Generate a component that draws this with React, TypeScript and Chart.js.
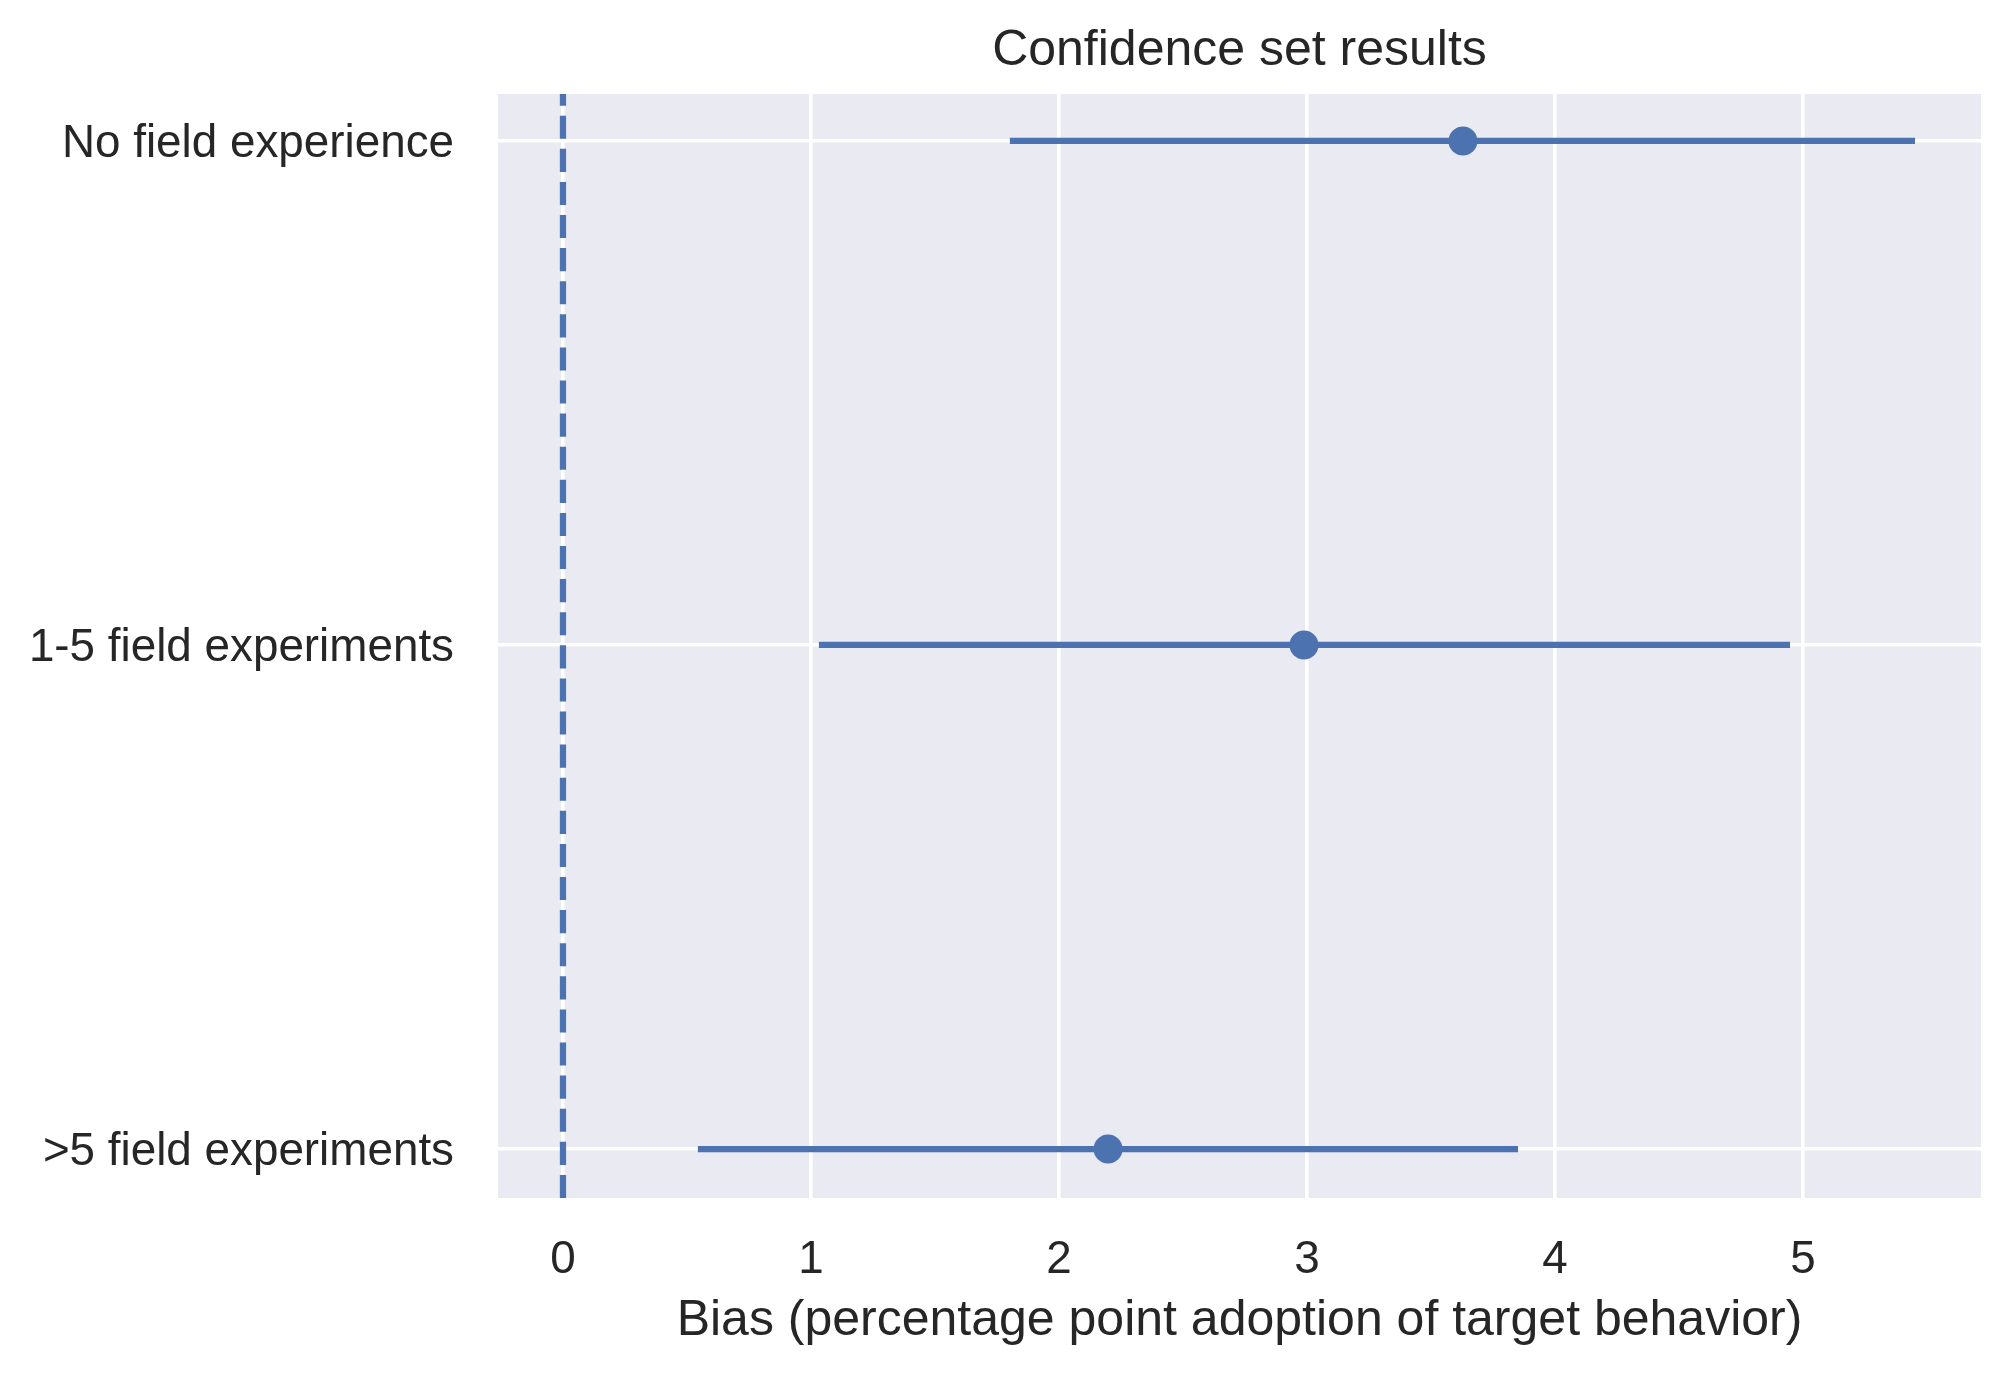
import React, { useEffect, useRef } from "react";
import { Chart, registerables } from "chart.js";

Chart.register(...registerables);

const categories = ["No field experience", "1-5 field experiments", ">5 field experiments"];
const estimates = [3.629, 2.988, 2.198];
const lowerBounds = [1.802, 1.032, 0.544];
const upperBounds = [5.452, 4.948, 3.851];
const xTickValues = [0, 1, 2, 3, 4, 5];
const referenceX = 0;

const X_MIN = -0.262;
const X_MAX = 5.718;
const Y_MIN = -0.093;
const Y_MAX = 2.097;

const BLUE = "#4C72B0";
const TEXT = "#262626";
const FONT = "'Liberation Sans', Arial, Helvetica, sans-serif";

const bgPlugin = {
  id: "sbBackground",
  beforeDraw(chart: any) {
    const { ctx, chartArea } = chart;
    if (!chartArea) return;
    ctx.save();
    ctx.fillStyle = "#EAEAF2";
    ctx.fillRect(chartArea.left, chartArea.top, chartArea.right - chartArea.left, chartArea.bottom - chartArea.top);
    ctx.restore();
  },
};

export default function App() {
  const ref = useRef<HTMLCanvasElement | null>(null);

  useEffect(() => {
    if (!ref.current) return;
    Chart.defaults.font.family = FONT;

    const points = categories.map((_, i) => ({ x: estimates[i], y: i }));
    const ciDatasets = categories.map((c, i) => ({
      type: "line" as const,
      label: c + " CI",
      data: [
        { x: lowerBounds[i], y: i },
        { x: upperBounds[i], y: i },
      ],
      borderColor: BLUE,
      backgroundColor: BLUE,
      borderWidth: 6.25,
      borderCapStyle: "butt" as const,
      pointRadius: 0,
      pointHoverRadius: 0,
      fill: false,
      tension: 0,
    }));

    const chart = new Chart(ref.current, {
      type: "scatter",
      data: {
        datasets: [
          {
            type: "scatter",
            label: "Estimate",
            data: points,
            backgroundColor: BLUE,
            borderColor: BLUE,
            borderWidth: 0,
            pointRadius: 14.5,
            pointHoverRadius: 14.5,
          } as any,
          ...ciDatasets,
          {
            type: "line",
            label: "Zero",
            data: [
              { x: referenceX, y: Y_MAX },
              { x: referenceX, y: Y_MIN },
            ],
            borderColor: BLUE,
            borderWidth: 6.25,
            borderDash: [23.1, 10],
            borderCapStyle: "butt",
            pointRadius: 0,
            pointHoverRadius: 0,
            fill: false,
          } as any,
        ],
      },
      options: {
        responsive: false,
        maintainAspectRatio: false,
        animation: false,
        devicePixelRatio: 1,
        layout: { padding: { left: 0, right: 32, top: 0, bottom: 0 } },
        plugins: {
          legend: { display: false },
          tooltip: { enabled: false },
          title: { display: false },
        },
        scales: {
          x: {
            type: "linear",
            position: "bottom",
            min: X_MIN,
            max: X_MAX,
            afterBuildTicks: (scale: any) => {
              scale.ticks = xTickValues.map((v) => ({ value: v }));
            },
            afterFit: (scale: any) => {
              scale.height = 179;
            },
            grid: { display: true, color: "#FFFFFF", lineWidth: 3.6, drawTicks: false },
            border: { display: false },
            ticks: {
              padding: 35,
              color: TEXT,
              font: { size: 45.8, family: FONT },
              maxRotation: 0,
              autoSkip: false,
              callback: (v: any) => String(v),
            },
            title: {
              display: true,
              text: "Bias (percentage point adoption of target behavior)",
              color: TEXT,
              font: { size: 50, family: FONT },
              padding: { top: 0, bottom: 26 },
            },
          },
          xTop: {
            type: "linear",
            position: "top",
            display: true,
            min: 0,
            max: 1,
            afterFit: (scale: any) => {
              scale.height = 94;
            },
            grid: { display: false, drawTicks: false },
            border: { display: false },
            ticks: { display: false },
            title: {
              display: true,
              text: "Confidence set results",
              color: TEXT,
              font: { size: 50, family: FONT },
              padding: { top: 21.4, bottom: 0 },
            },
          },
          y: {
            type: "linear",
            position: "left",
            reverse: true,
            min: Y_MIN,
            max: Y_MAX,
            afterBuildTicks: (scale: any) => {
              scale.ticks = categories.map((_, i) => ({ value: i }));
            },
            afterFit: (scale: any) => {
              scale.width = 498;
            },
            grid: { display: true, color: "#FFFFFF", lineWidth: 3.6, drawTicks: false },
            border: { display: false },
            ticks: {
              padding: 44,
              labelOffset: 3,
              color: TEXT,
              font: { size: 45.8, family: FONT },
              autoSkip: false,
              callback: (v: any) => categories[Math.round(Number(v))] ?? "",
            },
          },
        },
      } as any,
      plugins: [bgPlugin],
    });

    return () => {
      chart.destroy();
    };
  }, []);

  return (
    <div style={{ position: "fixed", left: 0, top: 0, width: 2013, height: 1377, overflow: "hidden", background: "#FFFFFF" }}>
      <canvas ref={ref} width={2013} height={1377} style={{ display: "block", width: 2013, height: 1377 }} />
    </div>
  );
}
